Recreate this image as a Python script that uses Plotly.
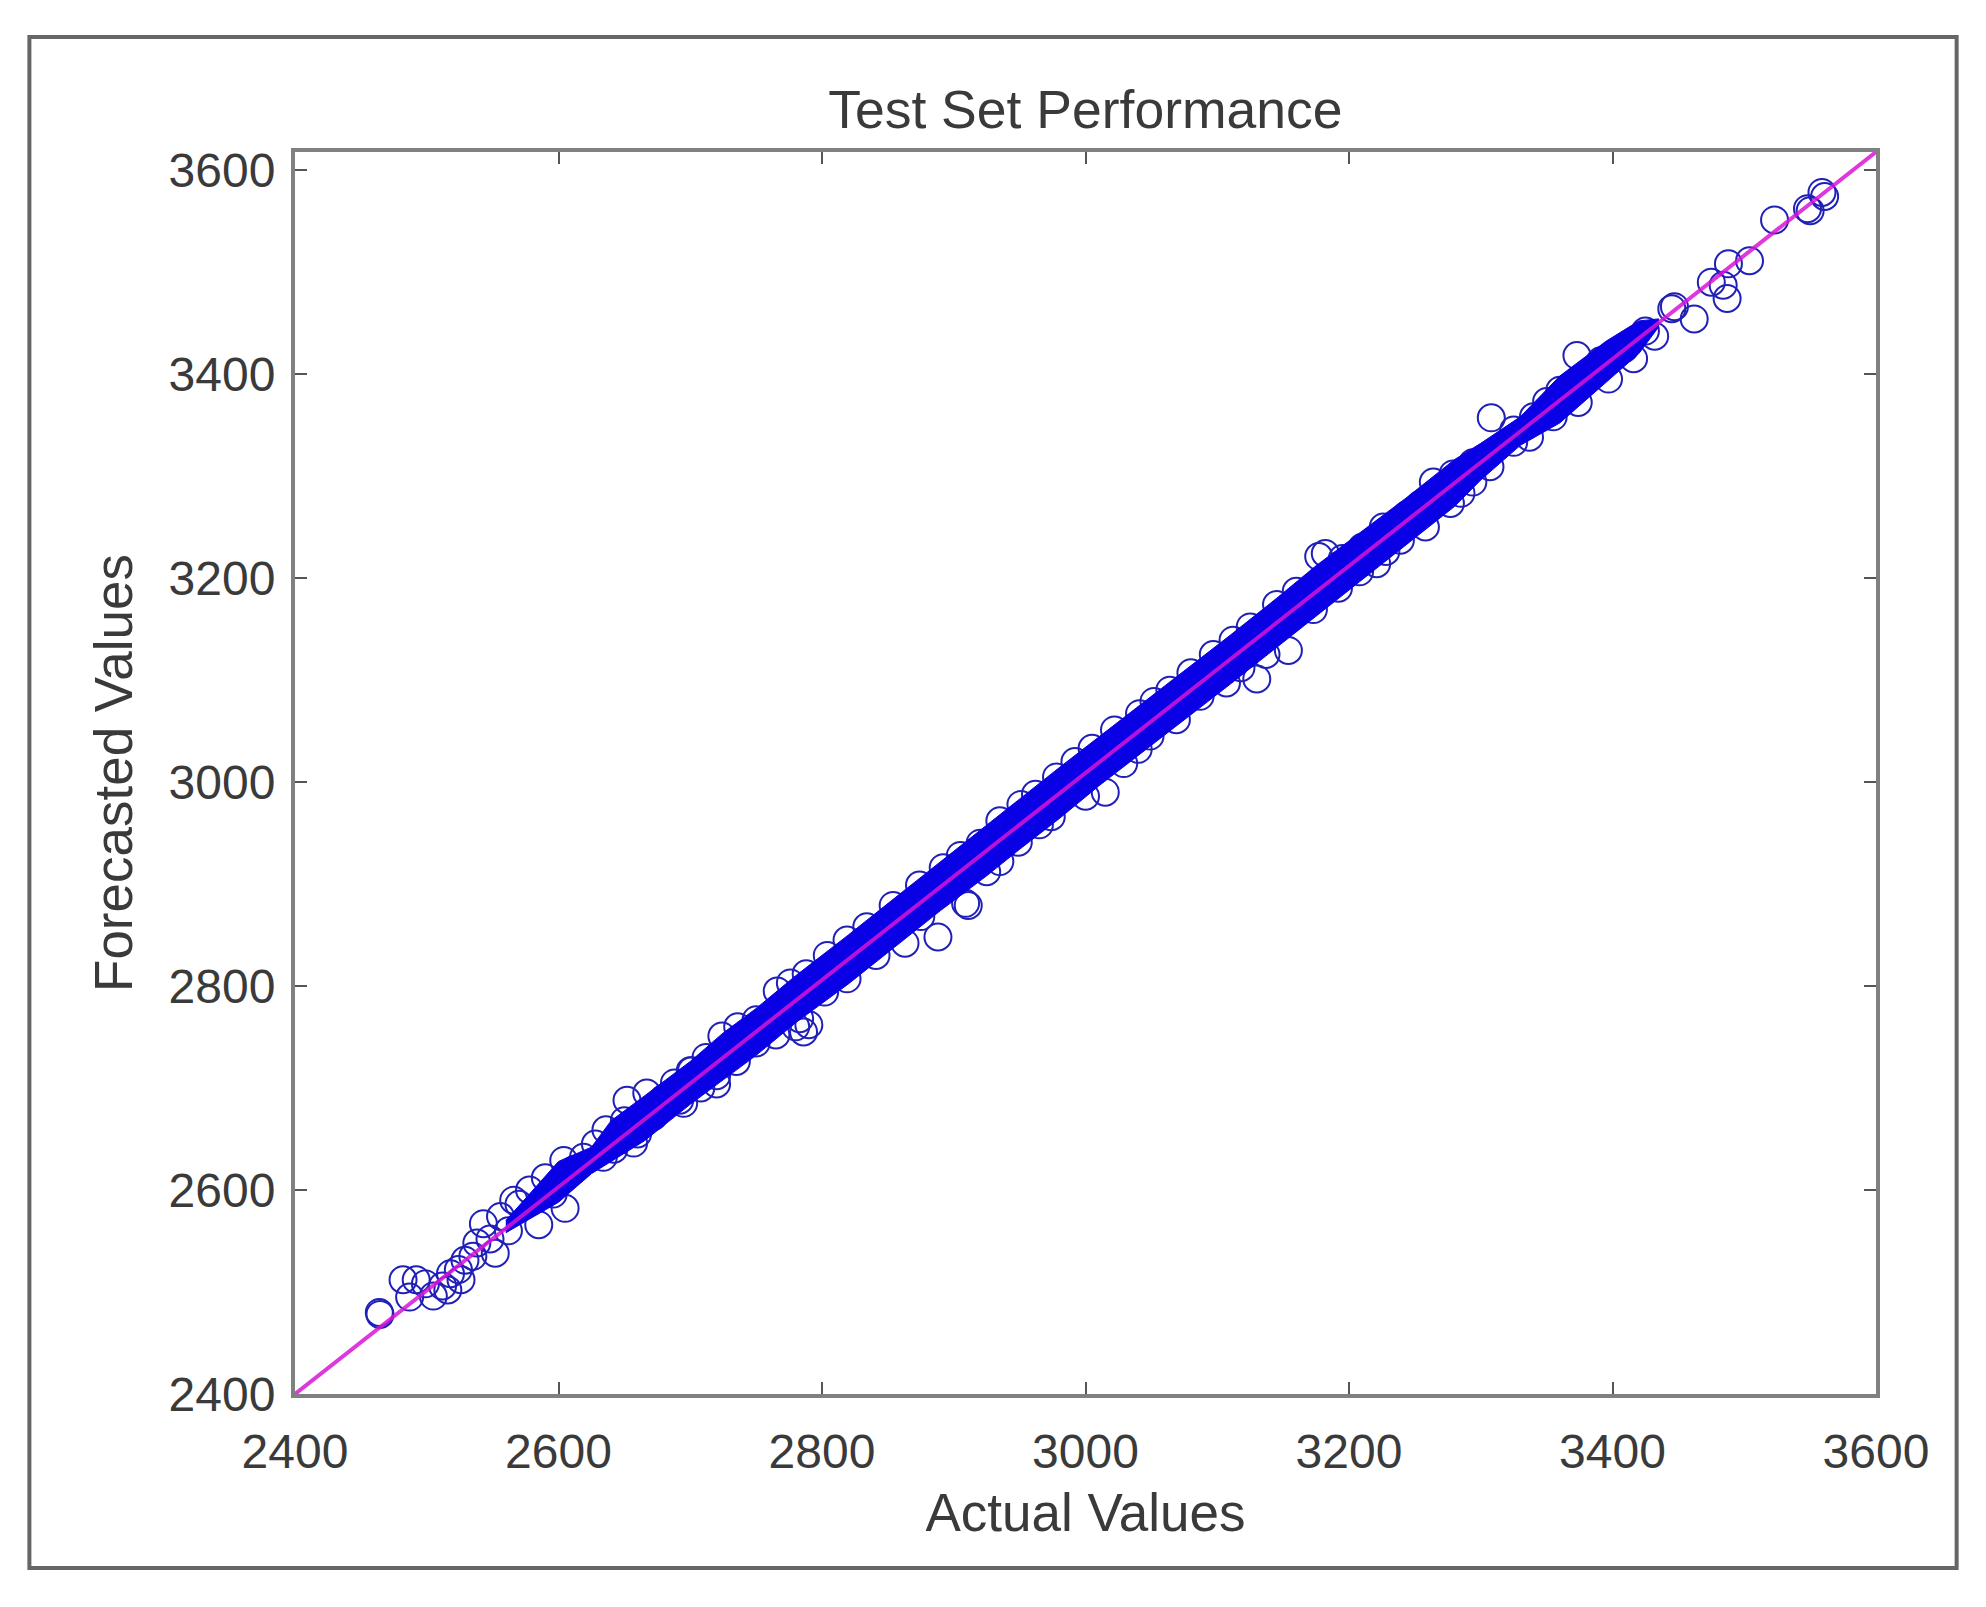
import plotly.graph_objects as go

FONT = "Liberation Sans"
TEXT_COLOR = "#3a3a3a"
AXIS_COLOR = "#808080"
TICK_COLOR = "#555555"

tick_vals = [2400, 2600, 2800, 3000, 3200, 3400, 3600]

# single circles, low end of the cloud
low_actual = [2464.5, 2464, 2482, 2487, 2505, 2492, 2499, 2516, 2518, 2512, 2524, 2529, 2526, 2535, 2552, 2543, 2538, 2548,
              2556, 2562, 2570, 2585, 2605, 2566, 2578, 2590, 2596, 2604, 2612, 2619, 2634, 2628, 2636, 2642, 2650, 2652,
              2667, 2657, 2660, 2672, 2680, 2695, 2720, 2700, 2688]
low_forecast = [2478, 2480, 2512, 2495, 2496, 2512, 2508, 2502, 2518, 2506, 2522, 2531, 2512, 2535, 2538, 2567, 2548, 2552,
                2574, 2560, 2586, 2566, 2582, 2590, 2600, 2612, 2596, 2629, 2620, 2632, 2632, 2645, 2659, 2640, 2668, 2688,
                2695, 2646, 2655, 2672, 2690, 2685, 2704, 2717, 2705]

# circles along the lower edge of the cloud
lower_actual = [2692, 2708, 2720, 2735, 2750, 2765, 2783, 2786, 2780, 2790, 2802, 2819, 2841, 2863, 2875, 2888, 2909, 2911,
                2925, 2935, 2949, 2965, 2974, 3000, 3015, 3029, 3040, 3049, 3069, 3087, 3107, 3118, 3130, 3137, 3154, 3173,
                3192, 3208, 3221, 3228, 3239, 3258, 3277, 3285, 3294, 3307, 3325, 3337, 3355, 3374, 3397, 3416]
lower_forecast = [2688, 2700, 2712, 2726, 2744, 2752, 2768, 2755, 2760, 2762, 2794, 2807, 2830, 2842, 2868, 2848, 2881, 2879,
                  2912, 2922, 2941, 2958, 2966, 2986, 2990, 3018, 3032, 3045, 3061, 3084, 3097, 3112, 3101, 3125, 3129, 3169,
                  3190, 3206, 3214, 3226, 3237, 3250, 3273, 3283, 3294, 3309, 3333, 3338, 3358, 3372, 3395, 3415]

# circles along the upper edge of the cloud
upper_actual = [2701, 2712, 2724, 2736, 2750, 2766, 2776, 2788, 2804, 2819, 2834, 2854, 2874, 2892, 2905, 2920, 2935, 2951,
                2962, 2978, 2992, 3005, 3022, 3041, 3052, 3064, 3080, 3097, 3112, 3125, 3145, 3160, 3177, 3182, 3195, 3210,
                3226, 3244, 3254, 3264, 3279, 3294, 3308, 3325, 3340, 3350, 3360, 3373, 3391, 3409, 3425]
upper_forecast = [2717, 2730, 2751, 2760, 2767, 2795, 2803, 2812, 2830, 2845, 2858, 2879, 2899, 2916, 2928, 2940, 2962, 2978,
                  2988, 3005, 3020, 3033, 3051, 3067, 3079, 3090, 3107, 3125, 3139, 3152, 3174, 3187, 3221, 3224, 3219, 3230,
                  3250, 3262, 3272, 3294, 3302, 3313, 3357, 3345, 3358, 3373, 3384, 3418, 3413, 3425, 3442]

# sparse circles past the end of the cloud
high_actual = [3432, 3445, 3447, 3462, 3475, 3484, 3487, 3488, 3504, 3523, 3548, 3550, 3559, 3561]
high_forecast = [3437, 3464, 3466, 3454, 3490, 3487, 3474, 3508, 3511, 3551, 3562, 3560, 3578, 3574]

# the middle of the cloud is overplotted to solid blue, kept as its upper and lower outline
band_actual = [2560, 2600, 2625, 2640, 2665, 2700, 2725, 2750, 2780, 2820, 2855, 2890, 2925, 2950, 2980, 3010, 3040, 3080,
               3110, 3145, 3175, 3210, 3245, 3280, 3300, 3330, 3360, 3395, 3420, 3435]
band_upper = [2570, 2628, 2642, 2668, 2692, 2726, 2754, 2778, 2810, 2850, 2886, 2922, 2958, 2984, 3014, 3044, 3074, 3114,
              3144, 3180, 3212, 3246, 3280, 3316, 3332, 3358, 3398, 3432, 3452, 3454]
band_lower = [2558, 2588, 2616, 2628, 2648, 2684, 2708, 2732, 2764, 2802, 2838, 2874, 2908, 2934, 2964, 2996, 3026, 3066,
              3096, 3132, 3162, 3198, 3234, 3270, 3296, 3330, 3352, 3392, 3420, 3446]

# reference line runs corner to corner of the axes
line_actual = [2400, 3600]
line_forecast = [2400, 3617.6]

actual = low_actual + lower_actual + upper_actual + high_actual
forecast = low_forecast + lower_forecast + upper_forecast + high_forecast

fig = go.Figure()
fig.add_trace(go.Scatter(x=actual, y=forecast, mode="markers",
                         marker=dict(symbol="circle-open", size=27, color="#2020b8", line=dict(width=2))))
fig.add_trace(go.Scatter(x=band_actual + band_actual[::-1], y=band_upper + band_lower[::-1],
                         mode="lines", fill="toself", fillcolor="#0a00e6",
                         line=dict(color="#0a00e6", width=1), hoverinfo="skip"))
fig.add_trace(go.Scatter(x=line_actual, y=line_forecast, mode="lines",
                         line=dict(color="rgba(215,20,215,0.85)", width=4)))

axis_style = dict(
    tickvals=tick_vals,
    ticks="inside",
    ticklen=12,
    tickwidth=2,
    tickcolor=TICK_COLOR,
    showline=True,
    linecolor=AXIS_COLOR,
    linewidth=4,
    mirror="ticks",
    showgrid=False,
    zeroline=False,
    automargin=False,
    tickfont=dict(family=FONT, size=48, color=TEXT_COLOR),
)

fig.update_layout(
    width=1986,
    height=1607,
    showlegend=False,
    paper_bgcolor="white",
    plot_bgcolor="white",
    margin=dict(l=295, r=110, t=152, b=213, pad=0),
    title=dict(text="Test Set Performance", x=0.5465, y=0.932, xanchor="center", yanchor="middle",
               font=dict(family=FONT, size=53.5, color=TEXT_COLOR)),
    xaxis=dict(range=[2400, 3600], ticklabelstandoff=12,
               title=dict(text="Actual Values", standoff=18, font=dict(family=FONT, size=53, color=TEXT_COLOR)),
               **axis_style),
    yaxis=dict(range=[2400, 3617.6], ticklabelstandoff=6,
               title=dict(text="Forecasted Values", standoff=20, font=dict(family=FONT, size=53, color=TEXT_COLOR)),
               **axis_style),
    shapes=[dict(type="rect", xref="paper", yref="paper", layer="below",
                 x0=-0.168, x1=1.051, y0=-0.140, y1=1.0926,
                 line=dict(color="#666666", width=4))],
)

fig.write_html("out.html", config={"displayModeBar": False}, post_script="document.body.style.margin='0';")
